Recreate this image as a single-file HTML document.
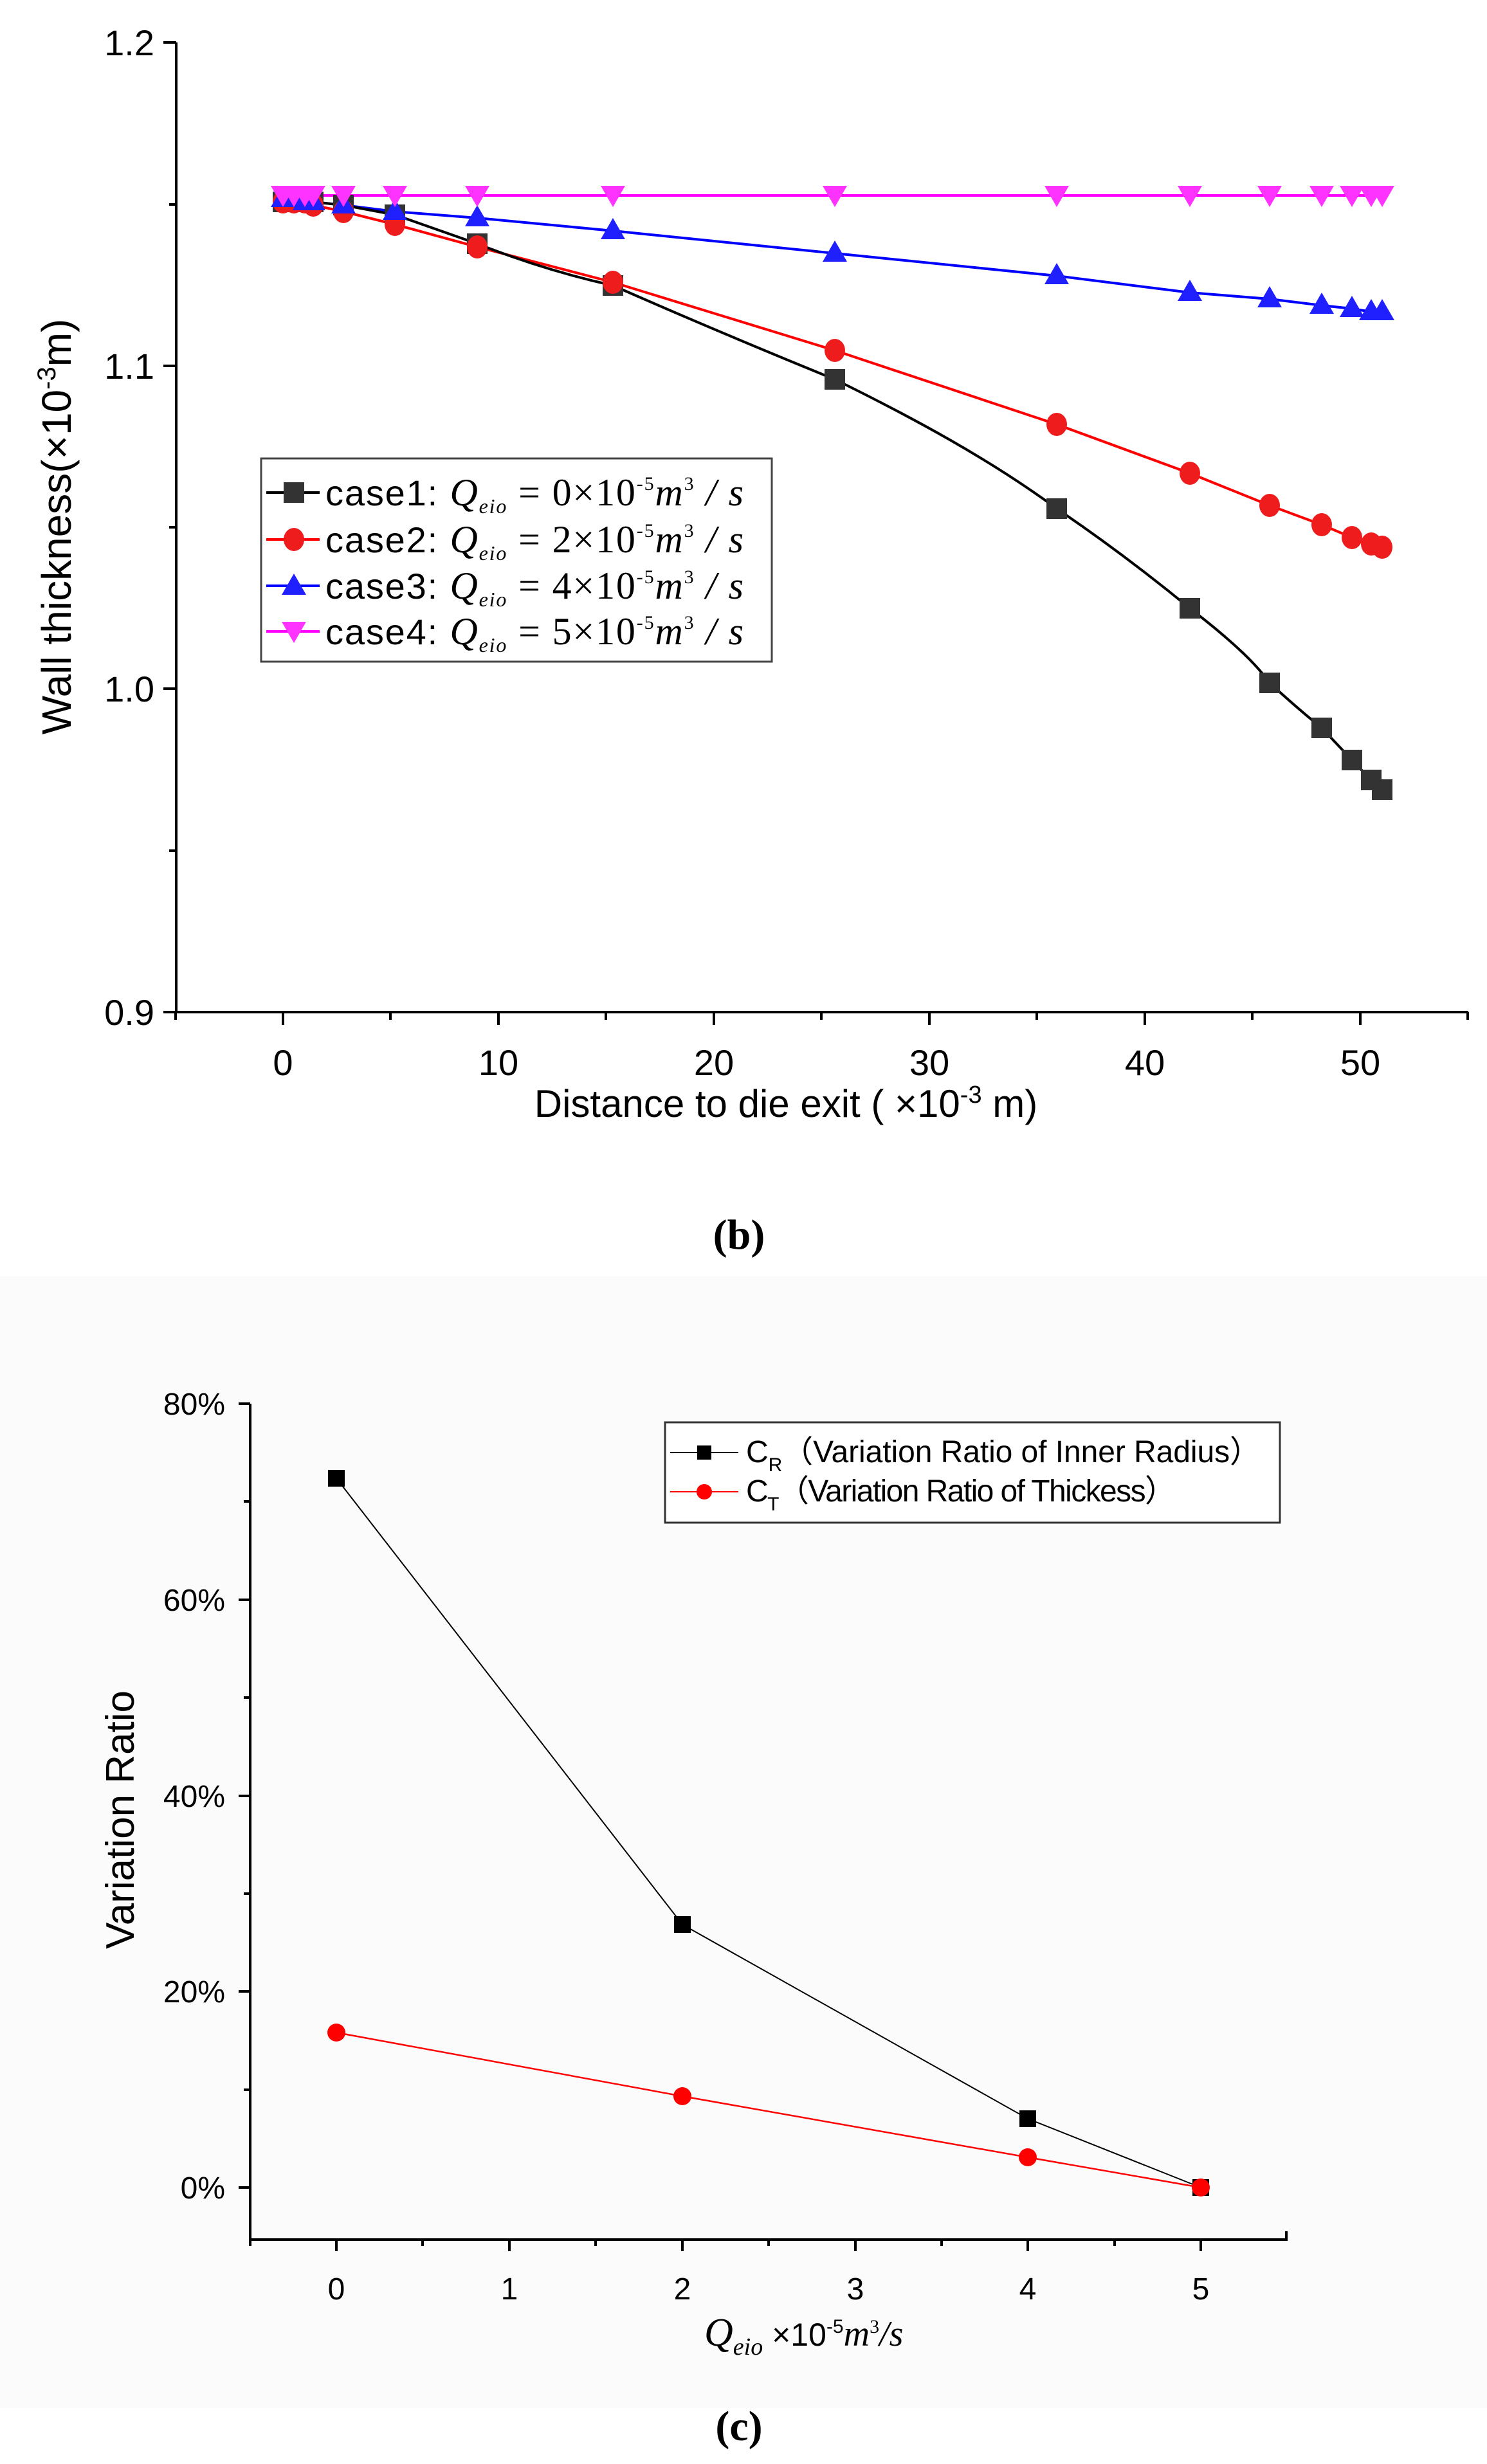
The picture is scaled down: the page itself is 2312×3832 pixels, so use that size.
<!DOCTYPE html>
<html><head><meta charset="utf-8"><style>
html,body{margin:0;padding:0;background:#fff;}
svg{display:block;}
text{font-family:"Liberation Sans",sans-serif;}
.ser{font-family:"Liberation Serif",serif;}
</style></head><body>
<svg width="2312" height="3832" viewBox="0 0 2312 3832" xmlns="http://www.w3.org/2000/svg">
<rect x="0" y="1985" width="2312" height="1760" fill="#fbfbfb"/>
<!-- ===== Chart b ===== -->
<g stroke="#000" stroke-width="4" fill="none">
<path d="M274 66 V1574 H2283"/>
<path d="M274 66 h-20 M274 569 h-20 M274 1071 h-20 M274 1574 h-20 M274 318 h-11 M274 820 h-11 M274 1323 h-11"/>
<path d="M440 1574 v20 M775 1574 v20 M1110 1574 v20 M1445 1574 v20 M1780 1574 v20 M2115 1574 v20 M273 1574 v12 M607 1574 v12 M942 1574 v12 M1277 1574 v12 M1612 1574 v12 M1947 1574 v12 M2282 1574 v12"/>
</g>
<g font-size="56" fill="#000" text-anchor="end">
<text x="240" y="86">1.2</text><text x="240" y="589">1.1</text><text x="240" y="1091">1.0</text><text x="240" y="1594">0.9</text>
</g>
<g font-size="56" fill="#000" text-anchor="middle">
<text x="440" y="1672">0</text><text x="775" y="1672">10</text><text x="1110" y="1672">20</text><text x="1445" y="1672">30</text><text x="1780" y="1672">40</text><text x="2115" y="1672">50</text>
</g>
<text x="1222" y="1737" font-size="60" text-anchor="middle">Distance to die exit ( ×10<tspan dy="-22" font-size="38">-3</tspan><tspan dy="22"> m)</tspan></text>
<text transform="translate(110,819) rotate(-90)" font-size="64" text-anchor="middle">Wall thickness(×10<tspan dy="-24" font-size="40">-3</tspan><tspan dy="24">m)</tspan></text>
<polyline fill="none" stroke="#ff00ff" stroke-width="4" points="440,304 2149,304"/>
<polyline fill="none" stroke="#0000ff" stroke-width="4" points="440,309 457,309 474,314 487,314 534,319 614,329 742,339 953,359 1298,394 1643,429 1850,455 1974,465 2055,475 2102,480 2132,485 2149,485"/>
<polyline fill="none" stroke="#ff0000" stroke-width="4" points="440,314 457,314 474,314 487,319 534,329 614,349 742,384 953,439 1298,545 1643,660 1850,736 1974,786 2055,816 2102,836 2132,846 2149,851"/>
<path fill="none" stroke="#000" stroke-width="4" d="M440,314 L487,314 L534,319 L614,334 L742,379 C820,410 890,430 953,444 C1080,500 1200,550 1298,590 C1420,650 1540,715 1643,791 C1730,850 1800,905 1850,946 C1920,1000 1955,1035 1974,1062 C2010,1095 2040,1120 2055,1132 L2102,1182 L2132,1213 L2149,1228"/>
<g fill="#333">
<rect x="424" y="298" width="32" height="32"/><rect x="441" y="298" width="32" height="32"/><rect x="458" y="298" width="32" height="32"/><rect x="471" y="298" width="32" height="32"/><rect x="518" y="303" width="32" height="32"/><rect x="598" y="318" width="32" height="32"/><rect x="726" y="363" width="32" height="32"/><rect x="937" y="428" width="32" height="32"/><rect x="1282" y="574" width="32" height="32"/><rect x="1627" y="775" width="32" height="32"/><rect x="1834" y="930" width="32" height="32"/><rect x="1958" y="1046" width="32" height="32"/><rect x="2039" y="1116" width="32" height="32"/><rect x="2086" y="1166" width="32" height="32"/><rect x="2116" y="1197" width="32" height="32"/><rect x="2133" y="1212" width="32" height="32"/>
</g>
<g fill="#ee1c1c">
<ellipse cx="440" cy="314" rx="16" ry="18"/><ellipse cx="457" cy="314" rx="16" ry="18"/><ellipse cx="474" cy="314" rx="16" ry="18"/><ellipse cx="487" cy="319" rx="16" ry="18"/><ellipse cx="534" cy="329" rx="16" ry="18"/><ellipse cx="614" cy="349" rx="16" ry="18"/><ellipse cx="742" cy="384" rx="16" ry="18"/><ellipse cx="953" cy="439" rx="16" ry="18"/><ellipse cx="1298" cy="545" rx="16" ry="18"/><ellipse cx="1643" cy="660" rx="16" ry="18"/><ellipse cx="1850" cy="736" rx="16" ry="18"/><ellipse cx="1974" cy="786" rx="16" ry="18"/><ellipse cx="2055" cy="816" rx="16" ry="18"/><ellipse cx="2102" cy="836" rx="16" ry="18"/><ellipse cx="2132" cy="846" rx="16" ry="18"/><ellipse cx="2149" cy="851" rx="16" ry="18"/>
</g>
<g fill="#2020ff">
<path d="M440,289 l-19,33 h38z M457,289 l-19,33 h38z M474,294 l-19,33 h38z M487,294 l-19,33 h38z M534,299 l-19,33 h38z M614,309 l-19,33 h38z M742,319 l-19,33 h38z M953,339 l-19,33 h38z M1298,374 l-19,33 h38z M1643,409 l-19,33 h38z M1850,435 l-19,33 h38z M1974,445 l-19,33 h38z M2055,455 l-19,33 h38z M2102,460 l-19,33 h38z M2132,465 l-19,33 h38z M2149,465 l-19,33 h38z"/>
</g>
<g fill="#ff33ff">
<path d="M440,322 l-19,-33 h38z M457,322 l-19,-33 h38z M474,322 l-19,-33 h38z M487,322 l-19,-33 h38z M534,322 l-19,-33 h38z M614,322 l-19,-33 h38z M742,322 l-19,-33 h38z M953,322 l-19,-33 h38z M1298,322 l-19,-33 h38z M1643,322 l-19,-33 h38z M1850,322 l-19,-33 h38z M1974,322 l-19,-33 h38z M2055,322 l-19,-33 h38z M2102,322 l-19,-33 h38z M2132,322 l-19,-33 h38z M2149,322 l-19,-33 h38z"/>
</g>
<rect x="406" y="713" width="794" height="316" fill="#fff" stroke="#444" stroke-width="3"/>
<g stroke-width="4">
<line x1="414" y1="766" x2="497" y2="766" stroke="#000"/><rect x="441" y="750" width="32" height="32" fill="#333"/>
<line x1="414" y1="839" x2="497" y2="839" stroke="#f00"/><ellipse cx="457" cy="839" rx="16" ry="18" fill="#ee1c1c"/>
<line x1="414" y1="911" x2="497" y2="911" stroke="#00f"/><path d="M457,892 l-19,33 h38z" fill="#2020ff"/>
<line x1="414" y1="982" x2="497" y2="982" stroke="#f0f"/><path d="M457,1000 l-19,-33 h38z" fill="#ff33ff"/>
</g>
<g font-size="56">
<text x="506" y="786" textLength="650">case1: <tspan class="ser" font-style="italic" font-size="60">Q</tspan><tspan class="ser" font-style="italic" font-size="32" dy="12">eio</tspan><tspan class="ser" dy="-12" font-size="60"> = 0×10</tspan><tspan class="ser" font-size="30" dy="-24">-5</tspan><tspan class="ser" font-style="italic" font-size="60" dy="24">m</tspan><tspan class="ser" font-size="30" dy="-24">3</tspan><tspan class="ser" font-style="italic" font-size="60" dy="24"> / s</tspan></text>
<text x="506" y="859" textLength="650">case2: <tspan class="ser" font-style="italic" font-size="60">Q</tspan><tspan class="ser" font-style="italic" font-size="32" dy="12">eio</tspan><tspan class="ser" dy="-12" font-size="60"> = 2×10</tspan><tspan class="ser" font-size="30" dy="-24">-5</tspan><tspan class="ser" font-style="italic" font-size="60" dy="24">m</tspan><tspan class="ser" font-size="30" dy="-24">3</tspan><tspan class="ser" font-style="italic" font-size="60" dy="24"> / s</tspan></text>
<text x="506" y="931" textLength="650">case3: <tspan class="ser" font-style="italic" font-size="60">Q</tspan><tspan class="ser" font-style="italic" font-size="32" dy="12">eio</tspan><tspan class="ser" dy="-12" font-size="60"> = 4×10</tspan><tspan class="ser" font-size="30" dy="-24">-5</tspan><tspan class="ser" font-style="italic" font-size="60" dy="24">m</tspan><tspan class="ser" font-size="30" dy="-24">3</tspan><tspan class="ser" font-style="italic" font-size="60" dy="24"> / s</tspan></text>
<text x="506" y="1002" textLength="650">case4: <tspan class="ser" font-style="italic" font-size="60">Q</tspan><tspan class="ser" font-style="italic" font-size="32" dy="12">eio</tspan><tspan class="ser" dy="-12" font-size="60"> = 5×10</tspan><tspan class="ser" font-size="30" dy="-24">-5</tspan><tspan class="ser" font-style="italic" font-size="60" dy="24">m</tspan><tspan class="ser" font-size="30" dy="-24">3</tspan><tspan class="ser" font-style="italic" font-size="60" dy="24"> / s</tspan></text>
</g>
<text x="1149" y="1942" class="ser" font-size="66" font-weight="bold" text-anchor="middle">(b)</text>

<!-- ===== Chart c ===== -->
<g stroke="#000" stroke-width="4" fill="none">
<path d="M389 2183 V3483 H2000 V3470"/>
<path d="M389 2183 h-18 M389 2488 h-18 M389 2793 h-18 M389 3097 h-18 M389 3402 h-18 M389 2335 h-10 M389 2640 h-10 M389 2945 h-10 M389 3250 h-10"/>
<path d="M523 3483 v18 M792 3483 v18 M1061 3483 v18 M1330 3483 v18 M1598 3483 v18 M1867 3483 v18 M389 3483 v10 M657 3483 v10 M926 3483 v10 M1195 3483 v10 M1464 3483 v10 M1733 3483 v10"/>
</g>
<g font-size="48" text-anchor="end">
<text x="350" y="2200">80%</text><text x="350" y="2505">60%</text><text x="350" y="2810">40%</text><text x="350" y="3114">20%</text><text x="350" y="3419">0%</text>
</g>
<g font-size="48" text-anchor="middle">
<text x="523" y="3576">0</text><text x="792" y="3576">1</text><text x="1061" y="3576">2</text><text x="1330" y="3576">3</text><text x="1598" y="3576">4</text><text x="1867" y="3576">5</text>
</g>
<text transform="translate(208,2830) rotate(-90)" font-size="62" text-anchor="middle">Variation Ratio</text>
<text x="1095" y="3648" font-size="50"><tspan class="ser" font-style="italic" font-size="62">Q</tspan><tspan class="ser" font-style="italic" font-size="38" dy="14">eio</tspan><tspan dy="-14"> ×10</tspan><tspan font-size="30" dy="-20">-5</tspan><tspan class="ser" font-style="italic" font-size="56" dy="20">m</tspan><tspan class="ser" font-size="30" dy="-20">3</tspan><tspan class="ser" font-style="italic" font-size="56" dy="20">/s</tspan></text>
<polyline fill="none" stroke="#000" stroke-width="2" points="523,2299 1061,2993 1598,3295 1867,3402"/>
<polyline fill="none" stroke="#f00" stroke-width="2.5" points="523,3161 1061,3260 1598,3355 1867,3402"/>
<g fill="#000"><rect x="510" y="2286" width="26" height="26"/><rect x="1048" y="2980" width="26" height="26"/><rect x="1585" y="3282" width="26" height="26"/><rect x="1854" y="3389" width="26" height="26"/></g>
<g fill="#f00"><circle cx="523" cy="3161" r="14"/><circle cx="1061" cy="3260" r="14"/><circle cx="1598" cy="3355" r="14"/><circle cx="1867" cy="3402" r="14"/></g>
<rect x="1034" y="2212" width="956" height="156" fill="#fff" stroke="#333" stroke-width="3"/>
<line x1="1042" y1="2259" x2="1148" y2="2259" stroke="#000" stroke-width="2"/><rect x="1084" y="2248" width="22" height="22" fill="#000"/>
<line x1="1042" y1="2320" x2="1148" y2="2320" stroke="#f00" stroke-width="2"/><circle cx="1095" cy="2320" r="12" fill="#f00"/>
<text x="1160" y="2274" font-size="48" textLength="800">C<tspan font-size="30" dy="14">R</tspan><tspan dy="-14">（Variation Ratio of Inner Radius）</tspan></text>
<text x="1160" y="2335" font-size="48" textLength="668">C<tspan font-size="30" dy="14">T</tspan><tspan dy="-14">（Variation Ratio of Thickess）</tspan></text>
<text x="1149" y="3795" class="ser" font-size="66" font-weight="bold" text-anchor="middle">(c)</text>
</svg>
</body></html>
